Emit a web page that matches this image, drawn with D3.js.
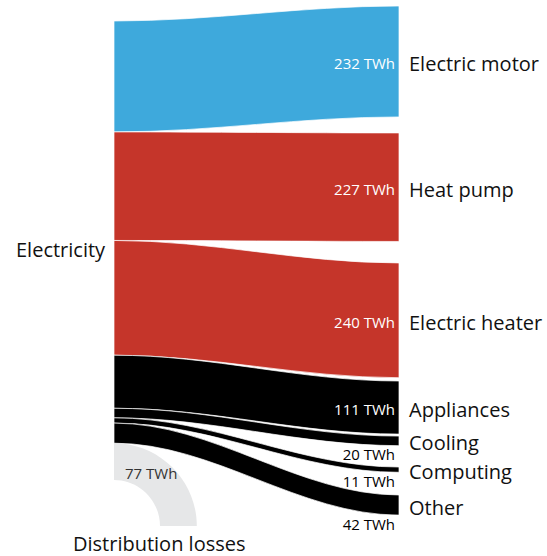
<!DOCTYPE html>
<html>
<head>
<meta charset="utf-8">
<script src="https://cdn.jsdelivr.net/npm/d3@7"></script>
<style>
  body { margin: 0; background: #fff; }
  text { font-family: "Open Sans", "Noto Sans", sans-serif; }
</style>
</head>
<body>
<div id="chart"></div>
<script>
// values in TWh
var source = "Electricity";
var targets = ["Electric motor", "Heat pump", "Electric heater", "Appliances", "Cooling", "Computing", "Other"];
var values = [232, 227, 240, 111, 20, 11, 42];
var lossName = "Distribution losses";
var lossValue = 77;
var colors = ["#3ea9dc", "#c5352a", "#c5352a", "#000000", "#000000", "#000000", "#000000"];

var width = 547, height = 556;
var total = d3.sum(values) + lossValue;

// layout stuff (not data)
var leftTop = 21, rightTop = 6;
var rightGaps = [16, 21.5, 3.3, 2, 21.4, 22.7];
var lossBottom = 526, lossInner = 46;
var curv = 0.35;

var x = d3.scaleLinear().domain([0, 1]).range([114, 399]);
var h = d3.scaleLinear().domain([0, total]).range([0, 459]);

var svg = d3.select("#chart").append("svg")
    .attr("width", width)
    .attr("height", height);

// stack the bands on both sides
var links = [];
var yl = leftTop, yr = rightTop;
for (var i = 0; i < values.length; i++) {
    var t = h(values[i]);
    links.push({ name: targets[i], value: values[i], color: colors[i],
        y0: yl, y1: yr, w: t });
    yl += t;
    yr += t + (i < rightGaps.length ? rightGaps[i] : 0);
}

function linkPath(d) {
    var x0 = x(0), x1 = x(1);
    var c0 = x0 + (x1 - x0) * curv, c1 = x1 - (x1 - x0) * curv;
    var p = d3.path();
    p.moveTo(x0, d.y0);
    p.bezierCurveTo(c0, d.y0, c1, d.y1, x1, d.y1);
    p.lineTo(x1, d.y1 + d.w);
    p.bezierCurveTo(c1, d.y1 + d.w, c0, d.y0 + d.w, x0, d.y0 + d.w);
    p.closePath();
    return p.toString();
}

svg.append("g")
    .selectAll("path")
    .data(links)
    .enter()
    .append("path")
    .attr("d", linkPath)
    .style("fill", d => d.color)
    .style("stroke", "#fff")
    .style("stroke-width", "0.7px");

// distribution losses bend downwards
var lw = h(lossValue);
var ly0 = yl, x0 = x(0);
var rOut = lossInner + lw, kap = 0.5523;
var lp = d3.path();
lp.moveTo(x0, ly0);
lp.bezierCurveTo(x0 + rOut * kap, ly0, x0 + rOut, lossBottom - rOut * kap, x0 + rOut, lossBottom);
lp.lineTo(x0 + lossInner, lossBottom);
lp.bezierCurveTo(x0 + lossInner, lossBottom - lossInner * kap, x0 + lossInner * kap, ly0 + lw, x0, ly0 + lw);
lp.closePath();
svg.append("path")
    .attr("d", lp.toString())
    .style("fill", "#e6e7e8");

// node labels
svg.append("g")
    .selectAll("text")
    .data(links)
    .enter()
    .append("text")
    .attr("x", x(1) + 10)
    .attr("y", d => d.y1 + d.w / 2 + 9.5)
    .attr("font-size", "20px")
    .attr("fill", "#111")
    .text(d => d.name);

// value labels: inside if the band is big enough, under it otherwise
svg.append("g")
    .selectAll("text")
    .data(links)
    .enter()
    .append("text")
    .attr("x", x(1) - 4)
    .attr("y", d => d.w > 30 ? d.y1 + d.w / 2 + 7.5 : d.y1 + d.w + 14.5)
    .attr("text-anchor", "end")
    .attr("font-size", "15px")
    .attr("fill", d => d.w > 30 ? "#fff" : "#000")
    .text(d => d.value + " TWh");

svg.append("text")
    .attr("x", x0 + 11)
    .attr("y", 479)
    .attr("font-size", "15px")
    .attr("fill", "#333")
    .text(lossValue + " TWh");

svg.append("text")
    .attr("x", 16)
    .attr("y", 257)
    .attr("font-size", "20px")
    .attr("fill", "#111")
    .text(source);

svg.append("text")
    .attr("x", 73)
    .attr("y", 551)
    .attr("font-size", "20px")
    .attr("fill", "#111")
    .text(lossName);
</script>
</body>
</html>
